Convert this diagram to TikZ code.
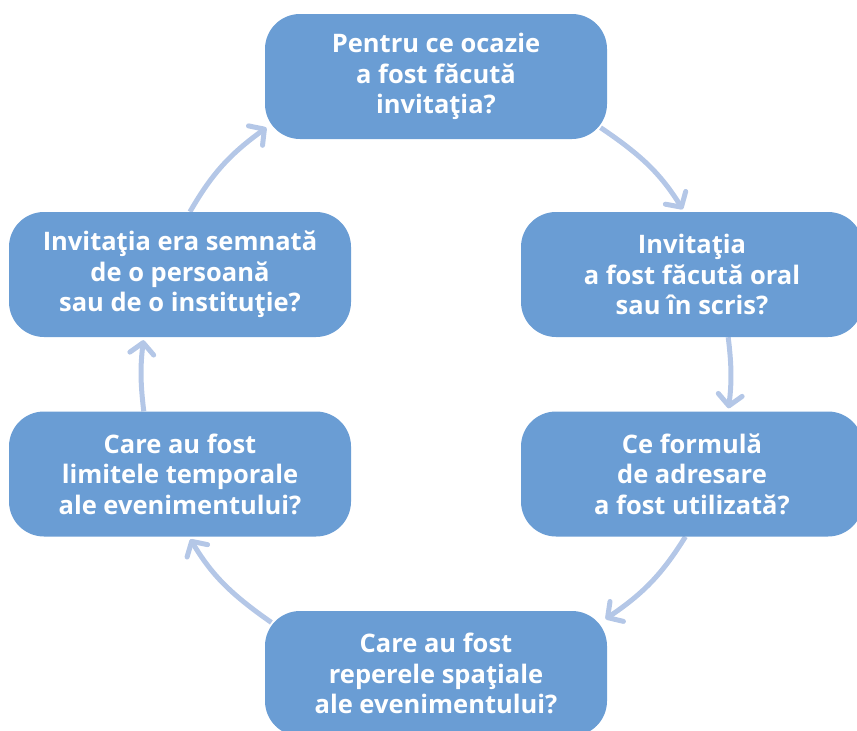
\documentclass[tikz,border=0pt]{standalone}
\usepackage{fontspec}
\setsansfont{Open Sans}
\usetikzlibrary{arrows.meta,backgrounds}

\definecolor{boxblue}{HTML}{6A9DD4}
\definecolor{arcblue}{HTML}{B4C7E7}

\tikzset{
  qbox/.style={rounded corners=35pt, fill=boxblue, text=white,
    minimum width=342pt, minimum height=125pt, align=center,
    font=\sffamily\bfseries\fontsize{25.5}{30.5}\selectfont},
  link/.style={draw=arcblue, line width=5pt,
    -{Straight Barb[length=11pt,width=24pt,round]}, bend left=#1},
  link/.default=11
}

\begin{document}
\begin{tikzpicture}[x=1pt,y=1pt]
  \useasboundingbox (0,0) rectangle (857,-731);

  % the six questions, clockwise from the top
  \node[qbox] (top)  at (436,-76.5) {Pentru ce ocazie\\a fost făcută\\invitaţia?};
  \node[qbox] (rtop) at (692,-274.5) {Invitaţia\\a fost făcută oral\\sau în scris?};
  \node[qbox] (rbot) at (692,-474) {Ce formulă\\de adresare\\a fost utilizată?};
  \node[qbox] (bot)  at (436,-673.5) {Care au fost\\reperele spaţiale\\ale evenimentului?};
  \node[qbox] (lbot) at (180,-474) {Care au fost\\limitele temporale\\ale evenimentului?};
  \node[qbox] (ltop) at (180,-274.5) {Invitaţia era semnată\\de o persoană\\sau de o instituţie?};

  % the arcs of the cycle, behind the boxes
  \begin{scope}[on background layer]
    \draw[link=12, shorten <=-8pt, shorten >=3pt] (top.-18) to (rtop.97.6);
    \draw[link=7, shorten >=3pt] (rtop.-60.75) to (rbot.60.75);
    \draw[link=12, shorten >=-2pt] (rbot.-96.6) to (bot.18);
    \draw[link=12, shorten <=-8pt, shorten >=3pt] (bot.162) to (lbot.-82);
    \draw[link=7, shorten >=3pt] (lbot.120) to (ltop.-120);
    \draw[link=12, shorten >=-2pt] (ltop.81) to (top.197.6);
  \end{scope}
\end{tikzpicture}
\end{document}
